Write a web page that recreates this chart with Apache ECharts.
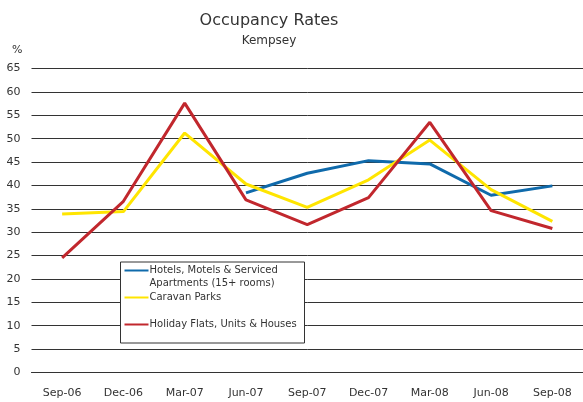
<!DOCTYPE html>
<html>
<head>
<meta charset="utf-8">
<script src="https://cdn.jsdelivr.net/npm/echarts@6/dist/echarts.min.js"></script>
<style>html,body{margin:0;padding:0;background:#fff}#c{width:583px;height:402px}</style>
</head>
<body>
<div id="c"></div>
<script>
var categories = ['Sep-06','Dec-06','Mar-07','Jun-07','Sep-07','Dec-07','Mar-08','Jun-08','Sep-08'];
var hotels   = [null, null, null, 38.4, 42.6, 45.3, 44.6, 37.9, 39.9];
var caravan  = [33.9, 34.4, 51.2, 40.3, 35.3, 41.2, 49.7, 39.1, 32.3];
var holiday  = [24.5, 36.6, 57.6, 36.9, 31.6, 37.4, 53.5, 34.6, 30.8];
var yTicks = [0,5,10,15,20,25,30,35,40,45,50,55,60,65];

var names = ['Hotels, Motels & Serviced Apartments (15+ rooms)','Caravan Parks','Holiday Flats, Units & Houses'];
var colors = ['#0f6aab','#ffe500','#c1272d'];
var FONT = 'DejaVu Sans';

var chart = echarts.init(document.getElementById('c'), null, {renderer:'canvas'});
function legendCfg(name, top, formatter){
  return {
    data:[name], orient:'vertical', left:124.5, top:top, padding:0, z:10,
    itemWidth:24, itemHeight:2, icon:'rect', itemGap:0,
    selectedMode:false,
    textStyle:{fontFamily:FONT, fontSize:10, color:'#333', lineHeight:13, padding:[0,0,0,-4]},
    formatter: formatter
  };
}
chart.setOption({
  animation:false,
  backgroundColor:'#fff',
  title:[
    {text:'Occupancy Rates', left:264, top:8, textAlign:'center',
     textStyle:{fontFamily:FONT, fontSize:16, fontWeight:'normal', color:'#333'}},
    {text:'Kempsey', left:264, top:30, textAlign:'center',
     textStyle:{fontFamily:FONT, fontSize:12, fontWeight:'normal', color:'#333'}},
    {text:'%', left:7, top:40,
     textStyle:{fontFamily:FONT, fontSize:11, fontWeight:'normal', color:'#333'}}
  ],
  grid:{left:31.5, top:68.5, width:553.5, bottom:29.5, containLabel:false},
  xAxis:{
    type:'category', data:categories, boundaryGap:true,
    axisLine:{lineStyle:{color:'#333', width:1}},
    axisTick:{inside:true, length:3, lineStyle:{color:'#333'}},
    axisLabel:{fontFamily:FONT, fontSize:11, color:'#333', margin:15},
    splitLine:{show:false}
  },
  yAxis:{
    type:'value', min:0, max:65, interval:5,
    axisLine:{show:false}, axisTick:{show:false},
    axisLabel:{fontFamily:FONT, fontSize:11, color:'#333', margin:11,
      formatter:function(v){ return yTicks.indexOf(v) >= 0 ? String(v) : ''; }},
    splitLine:{lineStyle:{color:'#333', width:1}}
  },
  legend:[
    legendCfg(names[0], 251, function(){ return ' \nHotels, Motels & Serviced\nApartments (15+ rooms)'; }),
    legendCfg(names[1], 291, function(n){ return n; }),
    legendCfg(names[2], 318, function(n){ return n; })
  ],
  graphic:{
    z:5,
    elements:[
      {type:'rect', z:5, shape:{x:120.5, y:262, width:184, height:81},
       style:{fill:'#fff', stroke:'#333', lineWidth:1}}
    ]
  },
  series:[
    {name:names[0], type:'line', data:hotels, color:colors[0], showSymbol:false, symbol:'none',
     lineStyle:{width:3, color:colors[0]}, connectNulls:false},
    {name:names[1], type:'line', data:caravan, color:colors[1], showSymbol:false, symbol:'none',
     lineStyle:{width:3, color:colors[1]}},
    {name:names[2], type:'line', data:holiday, color:colors[2], showSymbol:false, symbol:'none',
     lineStyle:{width:3, color:colors[2]}}
  ]
});
</script>
</body>
</html>
